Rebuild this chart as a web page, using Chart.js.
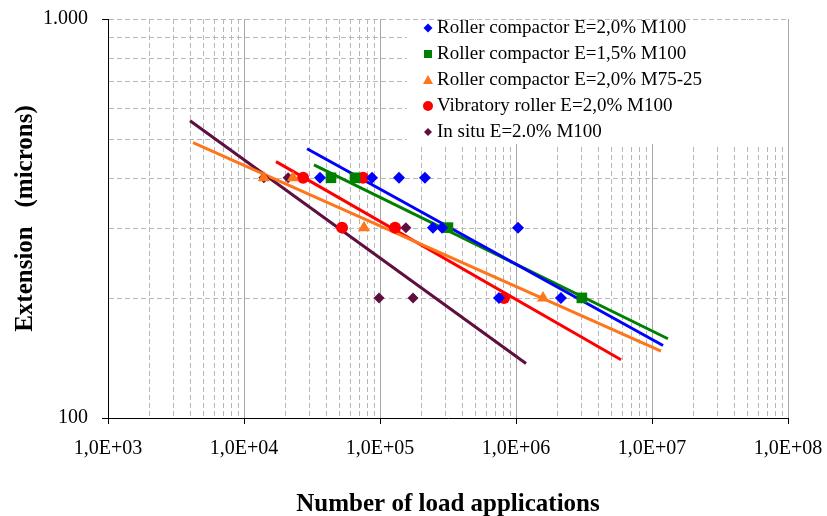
<!DOCTYPE html>
<html>
<head>
<meta charset="utf-8">
<script src="https://cdn.jsdelivr.net/npm/chart.js"></script>
<style>
  body{margin:0;background:#fff;}
  #wrap{width:827px;height:516px;}
</style>
</head>
<body>
<div id="wrap"><canvas id="chart" width="827" height="516"></canvas></div>
<script>
/* data: load applications (x) vs extension in microns (y) */
const seriesNames = [
  "Roller compactor E=2,0% M100",
  "Roller compactor E=1,5% M100",
  "Roller compactor E=2,0% M75-25",
  "Vibratory roller E=2,0% M100",
  "In situ E=2.0% M100"
];
const seriesColors = ["#0000ff", "#008000", "#ff7519", "#ff0000", "#5e0f3f"];

const rc20X = [36200, 87300, 138000, 214000, 245000, 286000, 1035000, 750000, 2140000];
const rc20Y = [400, 400, 400, 400, 300, 300, 300, 200, 200];
const rc15X = [43600, 65500, 316000, 3050000];
const rc15Y = [400, 400, 300, 200];
const rc7525X = [14000, 22900, 76300, 1580000];
const rc7525Y = [400, 400, 300, 200];
const vibX = [27200, 75000, 52600, 129000, 816000];
const vibY = [400, 400, 300, 300, 200];
const situX = [14000, 21100, 155000, 98400, 175000];
const situY = [400, 400, 300, 200, 200];

// trend lines (power fits), start and end of each
const rc20TrendX = [29100, 12050000];
const rc20TrendY = [473, 152];
const rc15TrendX = [32700, 13100000];
const rc15TrendY = [431, 158];
const rc7525TrendX = [4220, 11650000];
const rc7525TrendY = [490, 147];
const vibTrendX = [17200, 5920000];
const vibTrendY = [439, 140];
const situTrendX = [4010, 1185000];
const situTrendY = [556, 137];

const xTickValues = [1e3, 1e4, 1e5, 1e6, 1e7, 1e8];
const xTickLabels = ["1,0E+03", "1,0E+04", "1,0E+05", "1,0E+06", "1,0E+07", "1,0E+08"];
const yTickValues = [100, 1000];
const yTickLabels = ["100", "1.000"];

const pts = (xs, ys) => xs.map((x, i) => ({x: x, y: ys[i]}));

const markX = [rc20X, rc15X, rc7525X, vibX, situX];
const markY = [rc20Y, rc15Y, rc7525Y, vibY, situY];
const trendX = [rc20TrendX, rc15TrendX, rc7525TrendX, vibTrendX, situTrendX];
const trendY = [rc20TrendY, rc15TrendY, rc7525TrendY, vibTrendY, situTrendY];
const shapes = ["rectRot", "rect", "triangle", "circle", "rectRot"];
const radii = [6, 7.5, 7, 6, 5.5];

const datasets = [];
seriesNames.forEach((n, i) => {
  datasets.push({
    label: n, data: pts(markX[i], markY[i]), showLine: false,
    pointStyle: shapes[i], pointRadius: radii[i],
    backgroundColor: seriesColors[i], borderColor: seriesColors[i], borderWidth: 0
  });
});
seriesNames.forEach((n, i) => {
  datasets.push({
    label: n + " trend", data: pts(trendX[i], trendY[i]), showLine: true,
    pointRadius: 0, borderColor: seriesColors[i], borderWidth: 3, fill: false
  });
});

/* dashed minor grid + in-plot legend */
const minorGrid = {
  id: "minorGrid",
  beforeDatasetsDraw(chart){
    const {ctx, chartArea: a, scales: {x, y}} = chart;
    ctx.save();
    ctx.strokeStyle = "#b8b8b8";
    ctx.lineWidth = 1;
    ctx.setLineDash([5, 3]);
    for (let d = 1e3; d < 1e8; d *= 10) {
      for (let m = 2; m <= 9; m++) {
        const px = Math.round(x.getPixelForValue(d * m)) + 0.5;
        ctx.beginPath(); ctx.moveTo(px, a.top); ctx.lineTo(px, a.bottom); ctx.stroke();
      }
    }
    for (let m = 2; m <= 10; m++) {
      const py = Math.round(y.getPixelForValue(100 * m)) + 0.5;
      ctx.beginPath(); ctx.moveTo(a.left + 1, py); ctx.lineTo(a.right, py); ctx.stroke();
    }
    ctx.restore();
  }
};

function marker(ctx, shape, cx, cy, r){
  ctx.beginPath();
  if (shape === "rectRot") {
    ctx.moveTo(cx, cy - r); ctx.lineTo(cx + r, cy); ctx.lineTo(cx, cy + r); ctx.lineTo(cx - r, cy);
  } else if (shape === "rect") {
    ctx.rect(cx - r, cy - r, 2 * r, 2 * r);
  } else if (shape === "triangle") {
    ctx.moveTo(cx, cy - r); ctx.lineTo(cx + r, cy + r * 0.8); ctx.lineTo(cx - r, cy + r * 0.8);
  } else {
    ctx.arc(cx, cy, r, 0, Math.PI * 2);
  }
  ctx.closePath();
  ctx.fill();
}

const boxLegend = {
  id: "boxLegend",
  afterDraw(chart){
    const ctx = chart.ctx;
    ctx.save();
    ctx.fillStyle = "#fff";
    ctx.fillRect(407, 20, 379, 124);
    ctx.font = "19px 'Liberation Serif', 'Times New Roman', serif";
    ctx.textBaseline = "middle";
    const lr = [4.5, 4, 5, 5, 4];
    seriesNames.forEach((n, i) => {
      const yy = 28 + i * 26;
      ctx.fillStyle = seriesColors[i];
      marker(ctx, shapes[i], 428, yy, lr[i]);
      ctx.fillStyle = "#000";
      ctx.fillText(n, 437, yy);
    });
    ctx.restore();
  }
};

const serif = "'Liberation Serif', 'Times New Roman', serif";

new Chart(document.getElementById("chart"), {
  type: "scatter",
  data: {datasets: datasets},
  plugins: [minorGrid, boxLegend],
  options: {
    responsive: false,
    animation: false,
    layout: {padding: {top: 19, right: 39, left: 0, bottom: 0}},
    plugins: {legend: {display: false}, tooltip: {enabled: false}},
    scales: {
      x: {
        type: "logarithmic", min: 1e3, max: 1e8,
        afterBuildTicks: s => { s.ticks = xTickValues.map(v => ({value: v})); },
        afterFit: s => { s.height = 98; s.paddingLeft = 0; s.paddingRight = 0; },
        ticks: {
          color: "#000", padding: 13, maxRotation: 0, autoSkip: false,
          font: {family: serif, size: 20},
          callback: (v) => xTickLabels[xTickValues.indexOf(v)]
        },
        grid: {color: "#a6a6a6", tickColor: "#000", tickLength: 6, lineWidth: 1},
        border: {color: "#000", width: 1},
        title: {
          display: true, text: "Number of load applications", color: "#000",
          font: {family: serif, size: 25, weight: "bold"}, padding: {top: 0, bottom: -4}
        }
      },
      y: {
        type: "logarithmic", min: 100, max: 1000,
        afterBuildTicks: s => { s.ticks = yTickValues.map(v => ({value: v})); },
        afterFit: s => { s.width = 108; s.paddingTop = 0; s.paddingBottom = 0; },
        ticks: {
          color: "#000", padding: 14, autoSkip: false,
          font: {family: serif, size: 20},
          callback: (v) => yTickLabels[yTickValues.indexOf(v)]
        },
        grid: {color: "rgba(0,0,0,0)", tickColor: "#000", tickLength: 6},
        border: {color: "#000", width: 1},
        title: {
          display: true, text: "Extension   (microns)", color: "#000",
          font: {family: serif, size: 25, weight: "bold"}, padding: {top: 11, bottom: 0}
        }
      }
    }
  }
});
</script>
</body>
</html>
